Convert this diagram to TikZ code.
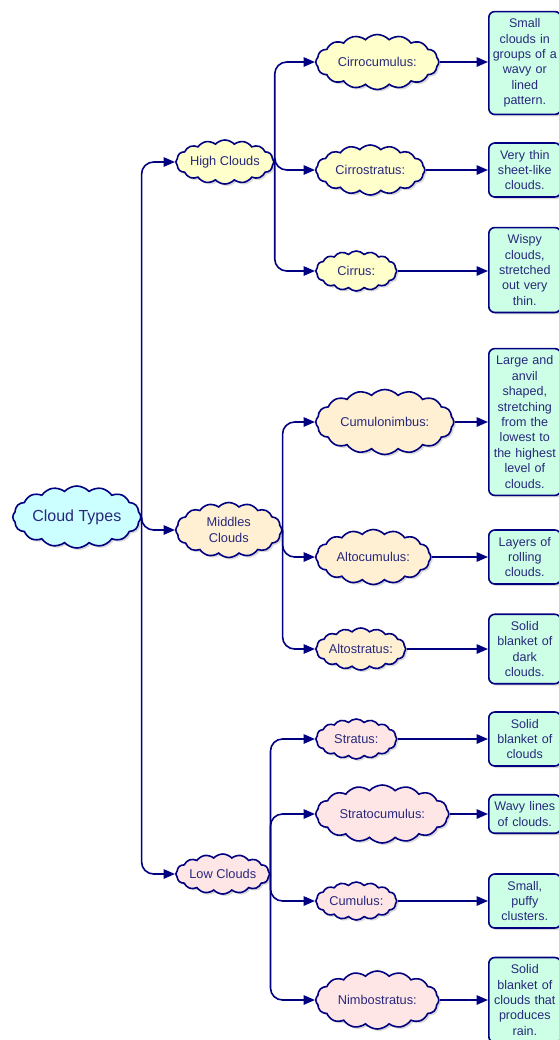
\documentclass[tikz,border=0pt]{standalone}
\usepackage{fontspec}
\setmainfont{Liberation Sans}
\usetikzlibrary{shapes.symbols,shadows,arrows.meta}
\definecolor{navyline}{RGB}{0,0,128}
\definecolor{navytext}{RGB}{40,40,125}
\definecolor{rootfill}{RGB}{204,255,255}
\definecolor{highfill}{RGB}{255,255,204}
\definecolor{midfill}{RGB}{255,240,212}
\definecolor{lowfill}{RGB}{255,230,230}
\definecolor{descfill}{RGB}{204,255,230}

\begin{document}
\begin{tikzpicture}[x=0.75pt, y=-0.75pt,
  puff/.style={cloud, cloud puffs=16, cloud puff arc=95, cloud ignores aspect,
    draw=navyline, line width=1.2pt, text=navytext, align=center, inner sep=0pt,
    anchor=west, font=\fontsize{9.6}{11.6}\selectfont,
    drop shadow={opacity=0.3, shadow xshift=1.5pt, shadow yshift=-1.5pt}},
  csize/.style 2 args={minimum width=#1*0.75pt, minimum height=#2*0.75pt},
  high/.style={puff, fill=highfill},
  mid/.style={puff, fill=midfill},
  low/.style={puff, fill=lowfill},
  desc/.style={draw=navyline, fill=descfill, line width=1.2pt, rounded corners=4.5pt,
    text=navytext, text width=49.5pt, align=center, inner xsep=2.25pt, inner ysep=5.2pt,
    anchor=west, font=\fontsize{9.4}{11.6}\selectfont,
    drop shadow={opacity=0.3, shadow xshift=1.5pt, shadow yshift=-1.5pt}},
  link/.style={draw=navyline, line width=1.2pt, rounded corners=9pt,
    -{Triangle[length=8.5pt, width=7pt]}}]
\useasboundingbox (0,0) rectangle (558,1040);

\node[puff, fill=rootfill, csize={128}{62}, font=\fontsize{12}{14}\selectfont] (types) at (12,517) {Cloud Types};

\node[high, csize={95}{44}] (high) at (175,162) {High Clouds};
\node[mid, csize={106}{55}] (middle) at (175,530) {Middles\\Clouds};
\node[low, csize={90}{40}] (low) at (175,874) {Low Clouds};

\node[high, csize={123}{55}] (cirrocumulus) at (315,62) {Cirrocumulus:};
\node[high, csize={109}{50}] (cirrostratus) at (315,170) {Cirrostratus:};
\node[high, csize={81}{40}] (cirrus) at (315,271) {Cirrus:};
\node[mid, csize={138}{65}] (cumulonimbus) at (315,422) {Cumulonimbus:};
\node[mid, csize={115}{55}] (altocumulus) at (315,557) {Altocumulus:};
\node[mid, csize={90}{42}] (altostratus) at (315,649) {Altostratus:};
\node[low, csize={81}{40}] (stratus) at (315,739) {Stratus:};
\node[low, csize={133}{58}] (stratocumulus) at (315,814) {Stratocumulus:};
\node[low, csize={81}{38}] (cumulus) at (315,901) {Cumulus:};
\node[low, csize={123}{58}] (nimbostratus) at (315,1000) {Nimbostratus:};

\node[desc] (cirrocumulus-d) at (488,63) {Small\\clouds in\\groups of a\\wavy or\\lined\\pattern.};
\node[desc] (cirrostratus-d) at (488,170) {Very thin\\sheet-like\\clouds.};
\node[desc] (cirrus-d) at (488,270) {Wispy\\clouds,\\stretched\\out very\\thin.};
\node[desc] (cumulonimbus-d) at (488,422) {Large and\\anvil\\shaped,\\stretching\\from the\\lowest to\\the highest\\level of\\clouds.};
\node[desc] (altocumulus-d) at (488,557) {Layers of\\rolling\\clouds.};
\node[desc] (altostratus-d) at (488,649) {Solid\\blanket of\\dark\\clouds.};
\node[desc] (stratus-d) at (488,739) {Solid\\blanket of\\clouds};
\node[desc] (stratocumulus-d) at (488,814) {Wavy lines\\of clouds.};
\node[desc] (cumulus-d) at (488,901) {Small,\\puffy\\clusters.};
\node[desc] (nimbostratus-d) at (488,1000) {Solid\\blanket of\\clouds that\\produces\\rain.};

\foreach \k in {high,middle,low}
  \draw[link] (types.east) |- (\k.west);
\foreach \k in {cirrocumulus,cirrostratus,cirrus}
  \draw[link] (high.east) |- (\k.west);
\foreach \k in {cumulonimbus,altocumulus,altostratus}
  \draw[link] (middle.east) |- (\k.west);
\foreach \k in {stratus,stratocumulus,cumulus,nimbostratus}
  \draw[link] (low.east) |- (\k.west);
\foreach \k in {cirrocumulus,cirrostratus,cirrus,cumulonimbus,altocumulus,altostratus,stratus,stratocumulus,cumulus,nimbostratus}
  \draw[link] (\k.east) -- (\k.east -| \k-d.west);
\end{tikzpicture}
\end{document}
